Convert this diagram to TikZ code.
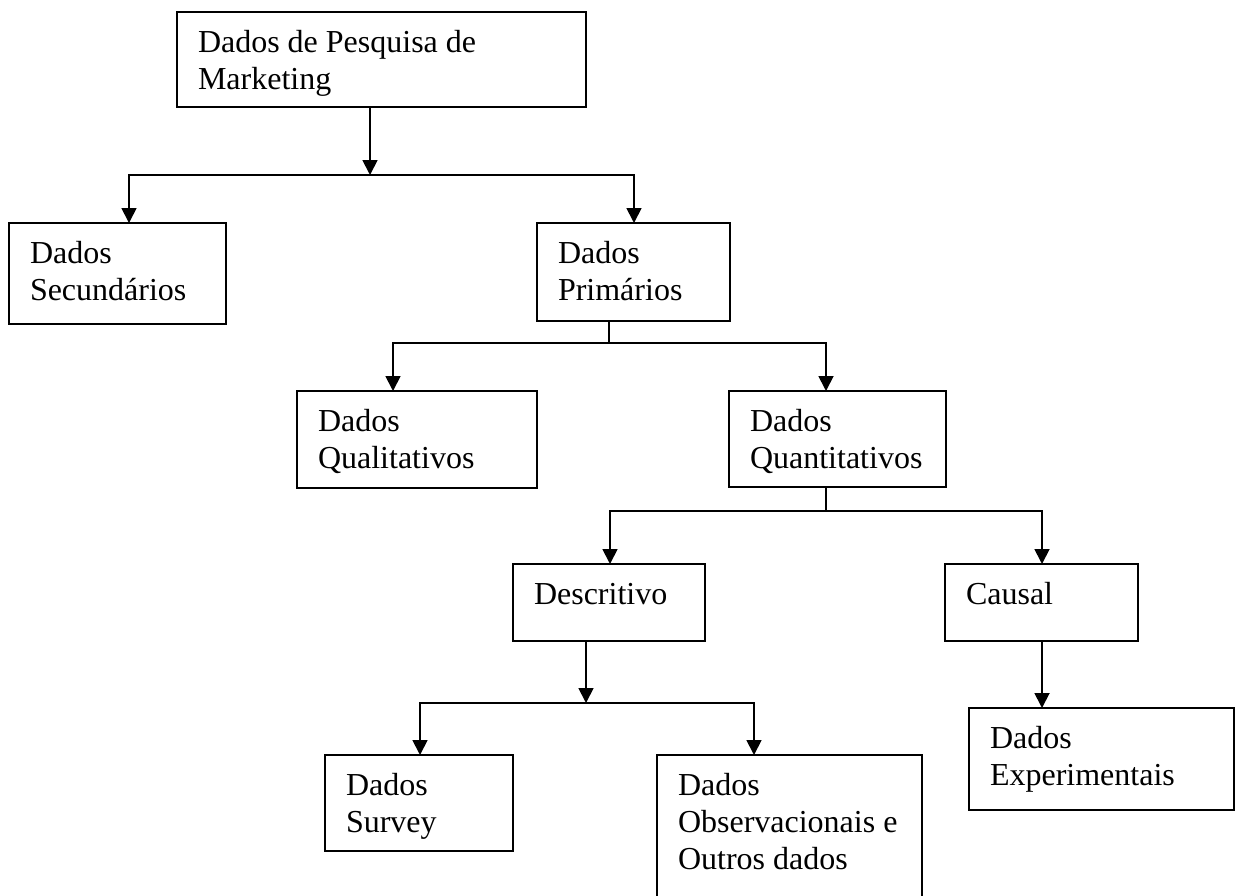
\documentclass[tikz,border=0pt]{standalone}
\usepackage{fontspec}
\setmainfont{Liberation Serif}
\usetikzlibrary{arrows.meta}

% box contents: fixed-size, top-aligned, indented text
\newcommand\cellbox[3]{\parbox[c][#2][t]{#1}{\raggedright\leftskip=21pt\relax\rule{0pt}{40pt}#3}}

\begin{document}
\begin{tikzpicture}[x=1pt, y=-1pt,
  box/.style={draw, line width=1.8pt, inner sep=0pt, outer sep=0pt, anchor=north west,
              font=\fontsize{32pt}{37pt}\selectfont},
  line/.style={line width=1.8pt},
  tip/.tip={Triangle[length=15pt, width=15pt]},
  arr/.style={line, -tip},
  biarr/.style={line, tip-tip, line join=miter}]

\useasboundingbox (0,0) rectangle (1237,895);
\clip (0,0) rectangle (1237,895);

% boxes
\node[box] (top)  at (177,12)  {\cellbox{409pt}{95pt}{Dados de Pesquisa de\\Marketing}};
\node[box] (sec)  at (9,223)   {\cellbox{217pt}{101pt}{Dados\\Secundários}};
\node[box] (pri)  at (537,223) {\cellbox{193pt}{98pt}{Dados\\Primários}};
\node[box] (qual) at (297,391) {\cellbox{240pt}{97pt}{Dados\\Qualitativos}};
\node[box] (quan) at (729,391) {\cellbox{217pt}{96pt}{Dados\\Quantitativos}};
\node[box] (desc) at (513,564) {\cellbox{192pt}{77pt}{Descritivo}};
\node[box] (cau)  at (945,564) {\cellbox{193pt}{77pt}{Causal}};
\node[box] (surv) at (325,755) {\cellbox{188pt}{96pt}{Dados\\Survey}};
\node[box] (obs)  at (657,755) {\cellbox{265pt}{160pt}{Dados\\Observacionais e\\Outros dados}};
\node[box] (exp)  at (969,708) {\cellbox{265pt}{102pt}{Dados\\Experimentais}};

% junction points
\coordinate (j1) at (370,175);  \coordinate (j1l) at (129,175);  \coordinate (j1r) at (634,175);
\coordinate (j2) at (609,343);  \coordinate (j2l) at (393,343);  \coordinate (j2r) at (826,343);
\coordinate (j3) at (826,511);  \coordinate (j3l) at (610,511);  \coordinate (j3r) at (1042,511);
\coordinate (j4) at (586,703);  \coordinate (j4l) at (420,703);  \coordinate (j4r) at (754,703);

% level 1
\draw[arr] (j1 |- top.south) -- (j1);
\draw[biarr] (j1l |- sec.north) -- (j1l) -- (j1r) -- (j1r |- pri.north);

% level 2
\draw[line] (j2 |- pri.south) -- (j2);
\draw[biarr] (j2l |- qual.north) -- (j2l) -- (j2r) -- (j2r |- quan.north);

% level 3
\draw[line] (j3 |- quan.south) -- (j3);
\draw[biarr] (j3l |- desc.north) -- (j3l) -- (j3r) -- (j3r |- cau.north);

% level 4
\draw[arr] (j4 |- desc.south) -- (j4);
\draw[biarr] (j4l |- surv.north) -- (j4l) -- (j4r) -- (j4r |- obs.north);

% causal branch
\draw[arr] (j3r |- cau.south) -- (j3r |- exp.north);
\end{tikzpicture}
\end{document}
